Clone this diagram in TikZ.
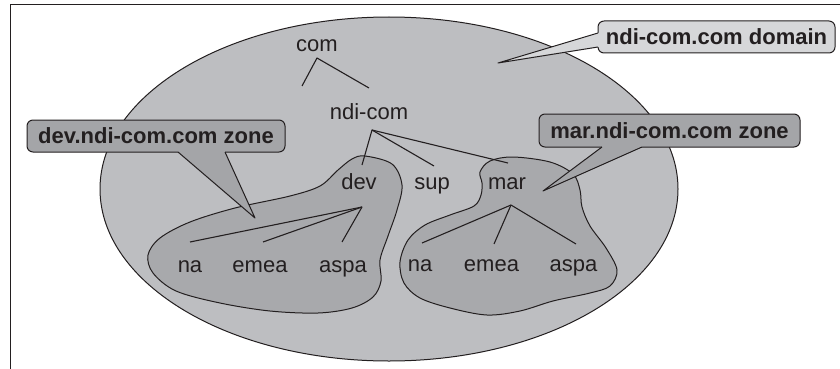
\documentclass[tikz,border=0pt]{standalone}
\usepackage{fontspec}
\setmainfont{Liberation Sans}
\usetikzlibrary{calc}
\definecolor{ink}{HTML}{231F20}
\definecolor{domfill}{HTML}{BDBEC1}
\definecolor{zonefill}{HTML}{A8A9AC}
\definecolor{domcall}{HTML}{D6D7D9}
\definecolor{zonecall}{HTML}{A4A5A8}
\begin{document}
\begin{tikzpicture}[x=1pt,y=-1pt,line join=round,
  lbl/.style={font=\fontsize{22}{26}\selectfont, text=ink, inner sep=0pt, anchor=base},
  tline/.style={draw=ink, line width=1.1pt},
  outline/.style={draw=ink, line width=1pt},
  callbox/.style={draw=ink, line width=1pt, rounded corners=6pt, inner sep=0pt,
    font=\bfseries\fontsize{22}{26}\selectfont, text=ink, minimum height=32pt},
  pointerside/.style={draw=ink, line width=1pt}
]
\useasboundingbox (0,0) rectangle (840,369);
% frame
\draw[outline] (840,4.5) -- (10.5,4.5) -- (10.5,369);
% domain ellipse
\draw[outline, fill=domfill] (389,189) ellipse [x radius=289, y radius=172];
% dev zone blob
\draw[outline, fill=zonefill] plot[smooth cycle, tension=0.55] coordinates {
  (365,156) (392,164) (402,185) (397,210) (388,236) (380,260) (381,281) (373,297)
  (352,308) (318,313) (270,311) (220,303) (176,291) (153,273) (148,255) (160,238)
  (190,222) (235,208) (290,196) (320,186) (338,170) (352,159)};
% mar zone blob
\draw[outline, fill=zonefill] plot[smooth cycle, tension=0.55] coordinates {
  (513,157) (550,162) (573,174) (580,190) (582,207) (590,226) (606,248) (617,270)
  (610,286) (590,293) (553,301) (520,311) (487,315) (450,308) (420,298) (404,283)
  (400,262) (408,240) (425,225) (450,215) (474,206) (481,195) (482,183) (480,172)
  (490,161)};
% labels
\node[lbl] (com) at (317,52) {com};
\node[lbl] (ndicom) at (369,119) {ndi-com};
\node[lbl] (dev) at (359,189) {dev};
\node[lbl] (sup) at (432,189) {sup};
\node[lbl] (mar) at (507,189) {mar};
\node[lbl] (dna) at (190,272) {na};
\node[lbl] (demea) at (260,272) {emea};
\node[lbl] (daspa) at (343,272) {aspa};
\node[lbl] (mna) at (420,271) {na};
\node[lbl] (memea) at (491.5,271) {emea};
\node[lbl] (maspa) at (573.5,271) {aspa};
% tree apexes and ends
\coordinate (comA) at (317,58);
\coordinate (comL) at (302,86);
\coordinate (comR) at (369,88);
\coordinate (ndiA) at (372,130);
\coordinate (devT) at (362,165);
\coordinate (supT) at (434,166);
\coordinate (marT) at (508,163);
\coordinate (devA) at (362,207);
\coordinate (dnaT) at (190,242);
\coordinate (demeaT) at (263,242);
\coordinate (daspaT) at (342,242);
\coordinate (marA) at (511,205);
\coordinate (mnaT) at (422,243);
\coordinate (memeaT) at (494,244);
\coordinate (maspaT) at (576,244);
\draw[tline] (comL) -- (comA) -- (comR);
\draw[tline] (devT) -- (ndiA) -- (supT);
\draw[tline] (ndiA) -- (marT);
\draw[tline] (dnaT) -- (devA) -- (daspaT);
\draw[tline] (demeaT) -- (devA);
\draw[tline] (mnaT) -- (marA) -- (maspaT);
\draw[tline] (memeaT) -- (marA);
% callouts
\node[callbox, fill=zonecall, minimum width=258pt] (devz) at (156,136) {dev.ndi-com.com zone};
\coordinate (devtip) at (255,218);
\fill[zonecall] (178,150) -- (178,152) -- (devtip) -- (225,152) -- (225,150) -- cycle;
\draw[pointerside] (178,152) -- (devtip) -- (225,152);

\node[callbox, fill=domcall, minimum width=237pt] (domz) at (716.5,37) {ndi-com.com domain};
\coordinate (domtip) at (498,63);
\fill[domcall] (600,33) -- (598,33) -- (domtip) -- (598,47) -- (600,47) -- cycle;
\draw[pointerside] (598,33) -- (domtip) -- (598,47);

\node[callbox, fill=zonecall, minimum width=261pt, minimum height=33pt] (marz) at (669.5,130.5) {mar.ndi-com.com zone};
\coordinate (martip) at (543,191);
\fill[zonecall] (602,145) -- (602,147) -- (martip) -- (642,147) -- (642,145) -- cycle;
\draw[pointerside] (602,147) -- (martip) -- (642,147);
\end{tikzpicture}
\end{document}
